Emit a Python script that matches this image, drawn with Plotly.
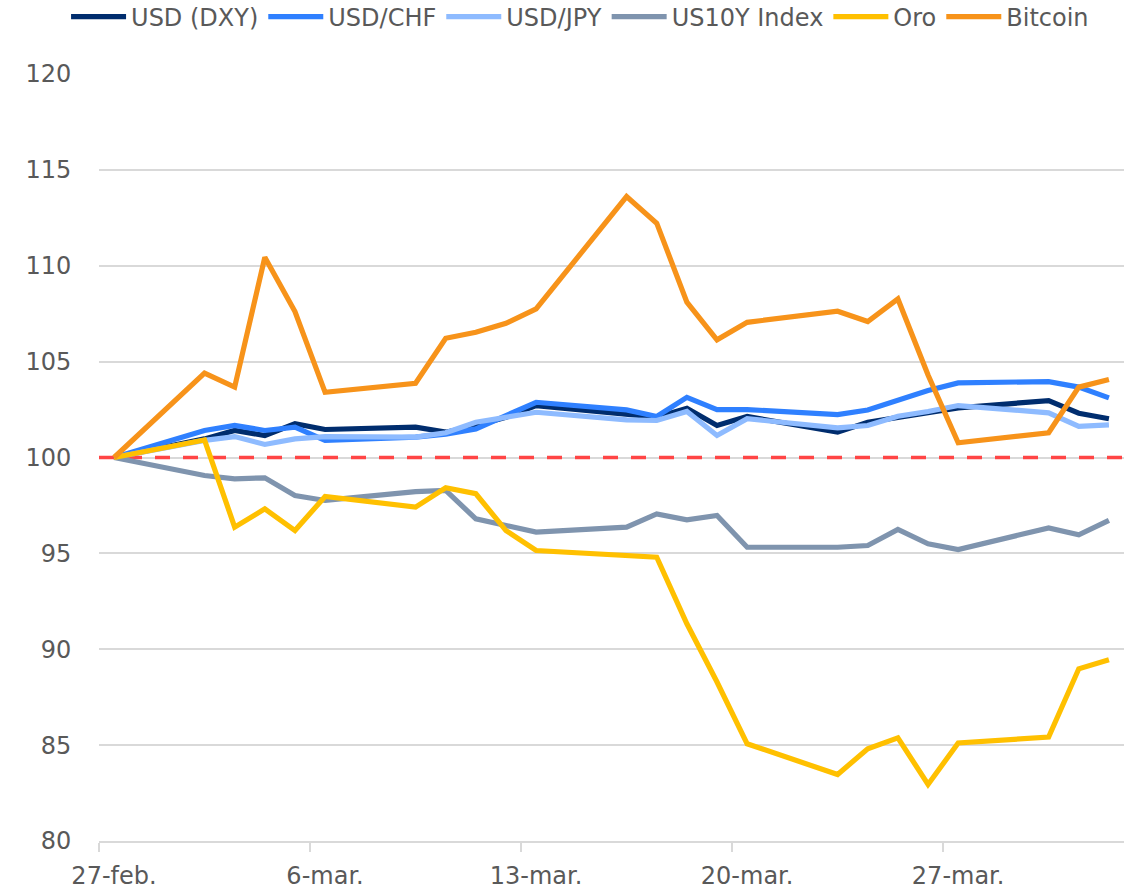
import pandas as pd
import plotly.graph_objects as go

# Trading days (weekdays only), indexed to 100 on 27-feb
dates = [
    "2026-02-27", "2026-03-02", "2026-03-03", "2026-03-04", "2026-03-05", "2026-03-06",
    "2026-03-09", "2026-03-10", "2026-03-11", "2026-03-12", "2026-03-13",
    "2026-03-16", "2026-03-17", "2026-03-18", "2026-03-19", "2026-03-20",
    "2026-03-23", "2026-03-24", "2026-03-25", "2026-03-26", "2026-03-27",
    "2026-03-30", "2026-03-31", "2026-04-01",
]

usd_dxy = [100.0, 100.97, 101.41, 101.15, 101.76, 101.46, 101.58, 101.32, 101.67, 102.10, 102.71,
           102.22, 102.10, 102.57, 101.67, 102.14, 101.32, 101.84, 102.10, 102.33, 102.59,
           102.97, 102.31, 102.02]
usd_chf = [100.0, 101.41, 101.67, 101.41, 101.58, 100.89, 101.06, 101.22, 101.49, 102.15, 102.88,
           102.48, 102.14, 103.14, 102.50, 102.50, 102.24, 102.48, 102.97, 103.49, 103.89,
           103.96, 103.67, 103.11]
usd_jpy = [100.0, 100.89, 101.09, 100.68, 100.97, 101.09, 101.06, 101.29, 101.84, 102.10, 102.36,
           101.96, 101.93, 102.40, 101.15, 102.02, 101.55, 101.67, 102.15, 102.40, 102.71,
           102.33, 101.62, 101.70]
us10y = [100.0, 99.06, 98.89, 98.94, 98.02, 97.76, 98.22, 98.28, 96.80, 96.45, 96.11,
         96.37, 97.06, 96.75, 96.98, 95.32, 95.32, 95.41, 96.25, 95.50, 95.20,
         96.33, 95.97, 96.72]
oro = [100.0, 100.92, 96.37, 97.32, 96.19, 97.97, 97.41, 98.42, 98.11, 96.19, 95.15,
       94.89, 94.80, 91.33, 88.29, 85.07, 83.47, 84.81, 85.38, 82.95, 85.11,
       85.42, 88.98, 89.45]
bitcoin = [100.0, 104.40, 103.67, 110.44, 107.61, 103.40, 103.87, 106.22, 106.53, 107.00, 107.75,
           113.61, 112.22, 108.10, 106.14, 107.05, 107.63, 107.09, 108.27, 104.30, 100.77,
           101.29, 103.67, 104.07]

series_names = ["USD (DXY)", "USD/CHF", "USD/JPY", "US10Y Index", "Oro", "Bitcoin"]
series_colors = ["#002D6E", "#2F80FF", "#8EBBFF", "#7F94AE", "#FFC000", "#F7931A"]

base_level = 100
x_range = ["2026-02-27", "2026-04-02"]
tick_dates = ["2026-02-27", "2026-03-06", "2026-03-13", "2026-03-20", "2026-03-27"]
tick_labels = ["27-feb.", "6-mar.", "13-mar.", "20-mar.", "27-mar."]
y_ticks = [80, 85, 90, 95, 100, 105, 110, 115, 120]

# each day occupies one slot on the date axis; points sit in the middle of it
x = pd.to_datetime(dates) + pd.Timedelta(hours=12)

TEXT = "#595959"
GRID = "#D9D9D9"
FONT = "DejaVu Sans"
FS = 24

fig = go.Figure()

# dashed base-level line across the whole axis, under the series
fig.add_trace(go.Scatter(
    x=x_range, y=[base_level, base_level], mode="lines", showlegend=False,
    hoverinfo="skip", cliponaxis=False,
    line=dict(color="#FF4545", width=3.6, dash="15px,13px"),
))

for name, color, values in zip(series_names, series_colors,
                               [usd_dxy, usd_chf, usd_jpy, us10y, oro, bitcoin]):
    fig.add_trace(go.Scatter(
        x=x, y=values, name=name, mode="lines",
        line=dict(color=color, width=5.2),
    ))

fig.update_layout(
    width=1139, height=893,
    margin=dict(l=99, r=15, t=74, b=52),
    paper_bgcolor="white", plot_bgcolor="white",
    font=dict(family=FONT, size=FS, color=TEXT),
    showlegend=True,
    legend=dict(
        orientation="h", xref="container", yref="container",
        x=0.058, y=0.981, xanchor="left", yanchor="middle",
        font=dict(family=FONT, size=FS, color=TEXT),
        itemwidth=55, tracegroupgap=0, bgcolor="rgba(0,0,0,0)",
    ),
    xaxis=dict(
        type="date", range=x_range,
        tickmode="array", tickvals=tick_dates, ticktext=tick_labels,
        ticks="outside", ticklen=9, tickwidth=1.5, tickcolor=GRID,
        showline=True, linecolor=GRID, linewidth=1.5,
        showgrid=False, zeroline=False, automargin=False,
        ticklabelshift=15, ticklabelstandoff=3,
        tickfont=dict(family=FONT, size=FS, color=TEXT),
    ),
    yaxis=dict(
        range=[80, 120], tickmode="array", tickvals=y_ticks,
        showgrid=True, gridcolor=GRID, gridwidth=1.5,
        zeroline=False, showline=False, automargin=False,
        ticks="outside", ticklen=22, tickcolor="rgba(0,0,0,0)",
        tickfont=dict(family=FONT, size=FS, color=TEXT),
    ),
)

fig.write_html("out.html")
